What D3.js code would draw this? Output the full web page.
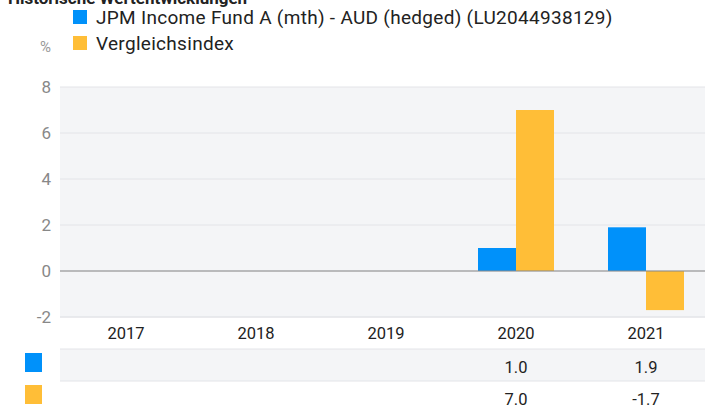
<!DOCTYPE html>
<html>
  <head>
    <script src="https://d3js.org/d3.v7.min.js"></script>
    <style>
    body { margin: 0; background: white; }
    text { font-family: Roboto, "Liberation Sans", sans-serif; }
    </style>
  </head>
  <body>
    <script>
      var width = 705;
      var height = 412;

      var years = ["2017", "2018", "2019", "2020", "2021"];
      var seriesNames = ["JPM Income Fund A (mth) - AUD (hedged) (LU2044938129)", "Vergleichsindex"];
      var fundValues = [null, null, null, 1.0, 1.9];
      var indexValues = [null, null, null, 7.0, -1.7];
      var yTicks = [-2, 0, 2, 4, 6, 8];
      var colors = ["#0091fa", "#ffbe37"];

      var svg = d3.select("body").append("svg")
                  .attr("width", width)
                  .attr("height", height);

      // title, mostly cut off at the top
      svg.append("text")
         .attr("x", 8).attr("y", 4)
         .style("font-size", "17px").style("font-weight", "bold").attr("fill", "#222")
         .text("Historische Wertentwicklungen");

      // legend
      var legend = svg.append("g");
      seriesNames.forEach(function(name, i) {
        legend.append("rect")
              .attr("x", 73).attr("y", 10 + i * 26)
              .attr("width", 14).attr("height", 14)
              .attr("fill", colors[i]);
        legend.append("text")
              .attr("x", 96).attr("y", 24 + i * 26)
              .style("font-size", "19px").style("letter-spacing", "0.3px").attr("fill", "#222")
              .text(name);
      });
      svg.append("text").attr("x", 40).attr("y", 52)
         .style("font-size", "15px").attr("fill", "#999").text("%");

      var plotLeft = 61, plotRight = 711, plotTop = 87, plotBottom = 317;

      var x = d3.scaleBand().domain(years).range([plotLeft, plotRight]);
      var x1 = d3.scaleBand().domain([0, 1]).range([0, 76]);
      var y = d3.scaleLinear().domain([-2, 8]).range([plotBottom, plotTop]);

      svg.append("rect")
         .attr("x", 60).attr("y", plotTop)
         .attr("width", width - 60).attr("height", plotBottom - plotTop)
         .attr("fill", "#f4f5f7");

      // grid
      svg.append("g").selectAll("line")
         .data(yTicks)
         .enter().append("line")
         .attr("x1", 60).attr("x2", width)
         .attr("y1", d => y(d)).attr("y2", d => y(d))
         .attr("stroke", "#e3e4e8");

      // y labels
      svg.append("g").selectAll("text")
         .data(yTicks)
         .enter().append("text")
         .attr("x", 51).attr("y", d => y(d) + 6)
         .attr("text-anchor", "end")
         .style("font-size", "17px").attr("fill", "#888")
         .text(d => d);

      // bars
      var series = [fundValues, indexValues];
      series.forEach(function(vals, s) {
        svg.append("g").selectAll("rect")
           .data(vals.map((v, i) => ({year: years[i], value: v})).filter(d => d.value !== null))
           .enter().append("rect")
           .attr("x", d => x(d.year) + x.bandwidth() / 2 - 38 + x1(s))
           .attr("width", x1.bandwidth())
           .attr("y", d => y(Math.max(0, d.value)))
           .attr("height", d => Math.abs(y(d.value) - y(0)))
           .attr("fill", colors[s]);
      });
      // zero line over bars
      svg.append("line")
         .attr("x1", 60).attr("x2", width)
         .attr("y1", y(0)).attr("y2", y(0))
         .attr("stroke", "#888").attr("stroke-width", 1.2);

      // category labels
      svg.append("g").selectAll("text")
         .data(years)
         .enter().append("text")
         .attr("x", d => x(d) + x.bandwidth() / 2)
         .attr("y", 339)
         .attr("text-anchor", "middle")
         .style("font-size", "16.5px").attr("fill", "#222")
         .text(d => d);

      // table
      var rowTop = [349, 381];
      svg.append("rect").attr("x", 60).attr("y", 349)
         .attr("width", width - 60).attr("height", 32).attr("fill", "#f4f5f7");
      [317, 349, 381].forEach(function(ly) {
        svg.append("line").attr("x1", 60).attr("x2", width)
           .attr("y1", ly).attr("y2", ly)
           .attr("stroke", "#e3e4e8");
      });
      series.forEach(function(vals, s) {
        svg.append("rect")
           .attr("x", 25).attr("y", rowTop[s] + 4)
           .attr("width", 17).attr("height", 19)
           .attr("fill", colors[s]);
        svg.append("g").selectAll("text")
           .data(vals.map((v, i) => ({year: years[i], value: v})).filter(d => d.value !== null))
           .enter().append("text")
           .attr("x", d => x(d.year) + x.bandwidth() / 2)
           .attr("y", rowTop[s] + 24)
           .attr("text-anchor", "middle")
           .style("font-size", "16.5px").attr("fill", "#222")
           .text(d => d.value.toFixed(1));
      });
    </script>
  </body>
</html>
